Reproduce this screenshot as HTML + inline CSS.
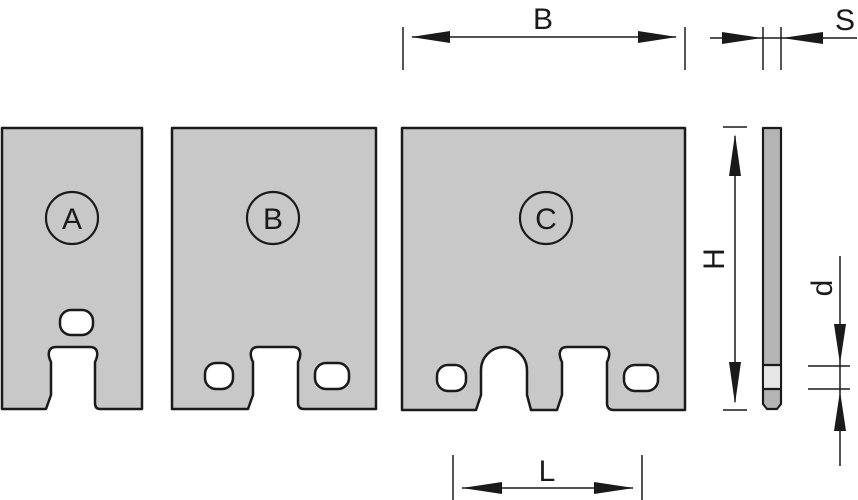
<!DOCTYPE html>
<html><head><style>
html,body{margin:0;padding:0;background:#fff;}
svg{display:block;}
text{font-family:"Liberation Sans",sans-serif;fill:#1a1a1a;}
</style></head><body>
<svg width="858" height="500" viewBox="0 0 858 500" xmlns="http://www.w3.org/2000/svg">
<g fill="#c8c8c8" stroke="#1a1a1a" stroke-width="2.5" stroke-linejoin="round">
<path d="M2,128 L142,128 L142,409 L100,409 Q95,409 95,403 L95,362 Q98,356 97,352 Q96,347 90,347 L56,347 Q50,347 49,352 Q48,356 51,362 L51,395 L46,409 L2,409 Z"/>
<path d="M172,128 L376,128 L376,409 L304,409 Q298,409 298,403 L298,362 Q301,356 300,352 Q299,347 293,347 L258,347 Q252,347 251,352 Q250,356 253,362 L253,395 L248,409 L172,409 Z"/>
<path d="M402,128 L685,128 L685,410 L614,410 Q607,410 607,403 L607,362 Q610,356 609,352 Q608,347 602,347 L567,347 Q561,347 560,352 Q559,356 562,362 L562,395 L557,410 L531,410 L527,395 L527,370 A23,23 0 0 0 481,370 L481,395 L476,410 L402,410 Z"/>
</g>
<g fill="#fff" stroke="#1a1a1a" stroke-width="2.5">
<rect x="60" y="310" width="33" height="25" rx="11"/>
<rect x="205" y="363" width="28" height="26" rx="11"/>
<rect x="315" y="363" width="34" height="26" rx="11"/>
<rect x="437" y="365" width="29" height="26" rx="11"/>
<rect x="624" y="365" width="34" height="26" rx="11"/>
</g>
<g fill="none" stroke="#1a1a1a" stroke-width="2.2">
<circle cx="72" cy="218" r="26"/>
<circle cx="273" cy="218" r="26"/>
<circle cx="546" cy="218" r="26"/>
</g>
<text x="72" y="229" font-size="30" text-anchor="middle">A</text>
<text x="273" y="229" font-size="30" text-anchor="middle">B</text>
<text x="546" y="229" font-size="30" text-anchor="middle">C</text>
<!-- side bar -->
<path d="M763,128 L781,128 L781,404 L777,409 L767,409 L763,404 Z" fill="#b4b4b4" stroke="#1a1a1a" stroke-width="2.2" stroke-linejoin="round"/>
<rect x="764" y="366" width="16" height="23" fill="#e6e6e6"/>
<g stroke="#1a1a1a" stroke-width="2.2">
<line x1="763" y1="365" x2="781" y2="365"/>
<line x1="763" y1="389" x2="781" y2="389"/>
</g>
<g stroke="#1a1a1a" stroke-width="1.5" fill="none">
<!-- B -->
<line x1="403" y1="27" x2="403" y2="70"/>
<line x1="685" y1="27" x2="685" y2="70"/>
<line x1="412" y1="37" x2="676" y2="37"/>
<!-- S -->
<line x1="763" y1="27" x2="763" y2="70"/>
<line x1="781" y1="27" x2="781" y2="70"/>
<line x1="710" y1="38" x2="857" y2="38"/>
<!-- H -->
<line x1="723" y1="127" x2="747" y2="127"/>
<line x1="723" y1="410" x2="747" y2="410"/>
<line x1="735" y1="136" x2="735" y2="402"/>
<!-- d -->
<line x1="808" y1="366" x2="850" y2="366"/>
<line x1="808" y1="389" x2="850" y2="389"/>
<line x1="840" y1="256" x2="840" y2="466"/>
<!-- L -->
<line x1="453" y1="455" x2="453" y2="500"/>
<line x1="642" y1="455" x2="642" y2="500"/>
<line x1="462" y1="488" x2="633" y2="488"/>
</g>
<g fill="#1a1a1a">
<polygon points="411,37 450,31 450,43"/>
<polygon points="677,37 638,31 638,43"/>
<polygon points="762,38 722,32 722,44"/>
<polygon points="782,38 823,32 823,44"/>
<polygon points="735,134 729,176 741,176"/>
<polygon points="735,404 729,362 741,362"/>
<polygon points="840,364 834,324 846,324"/>
<polygon points="840,391 834,431 846,431"/>
<polygon points="462,488 502,482 502,494"/>
<polygon points="634,488 594,482 594,494"/>
</g>
<text x="543" y="29" font-size="30" text-anchor="middle">B</text>
<text x="845" y="30" font-size="30" text-anchor="middle">S</text>
<text x="547" y="481" font-size="30" text-anchor="middle">L</text>
<text transform="translate(724,259) rotate(-90)" font-size="30" text-anchor="middle">H</text>
<text transform="translate(832,288) rotate(-90)" font-size="30" text-anchor="middle">d</text>
</svg>
</body></html>
